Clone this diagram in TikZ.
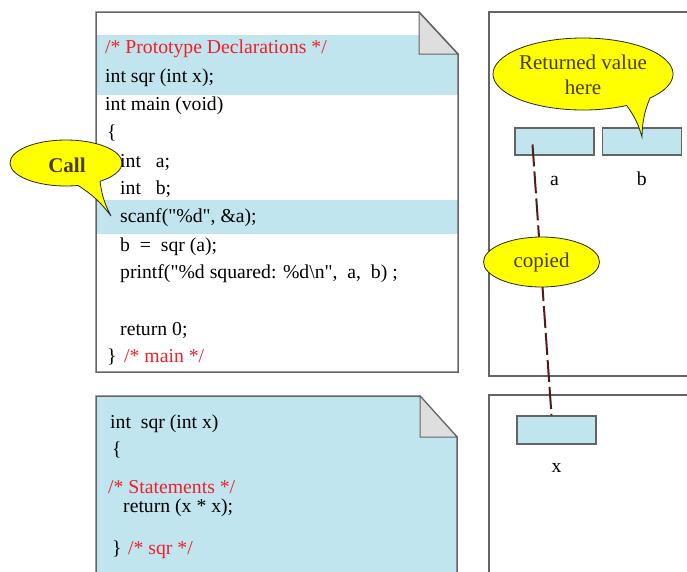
\documentclass[tikz,border=0pt]{standalone}
\usepackage{fontspec}
\setmainfont{Liberation Serif}[Ligatures=TeXOff]
\usetikzlibrary{shapes.geometric, positioning, calc}
\definecolor{codeblue}{RGB}{192,229,238}
\definecolor{foldgray}{RGB}{222,222,222}
\definecolor{edgegray}{RGB}{100,100,100}
\definecolor{commentred}{RGB}{240,30,40}
\definecolor{noteyellow}{RGB}{255,255,0}
\definecolor{noteink}{RGB}{70,60,0}
\definecolor{linkbrown}{RGB}{85,25,25}
\newcommand{\codefont}{\fontsize{19.7}{24}\selectfont}
\newcommand{\notefont}{\fontsize{21}{25}\selectfont}

\begin{document}
\begin{tikzpicture}[
    x=1pt, y=-1pt,
    code/.style={anchor=west, inner sep=0pt, font=\codefont,
                 text height=14pt, text depth=4pt},
    comment/.style={code, text=commentred},
    varbox/.style={rectangle, draw=edgegray, line width=1.2pt, fill=codeblue,
                   minimum width=79pt, minimum height=27pt, inner sep=0pt},
    varlabel/.style={inner sep=0pt, font=\codefont, text height=14pt, text depth=4pt},
    bubble/.style={draw=black!85, fill=noteyellow, line width=0.8pt},
    notetext/.style={font=\notefont, text=noteink, align=center},
    pageedge/.style={draw=edgegray, line width=1.5pt},
    foldcorner/.style={draw=edgegray, line width=1pt, fill=foldgray},
    copyline/.style={draw=linkbrown, line width=2pt, dash pattern=on 22pt off 5pt}
]
%% Frame
\useasboundingbox (0,0) rectangle (687,571);
\clip (0,0) rectangle (687,571);
%% main() page
\coordinate (mainnw) at (96,12);
\coordinate (mainse) at (458,372);
\coordinate (mainfold) at (419,54);
\fill[white] (mainnw) -- (mainfold |- mainnw) -- (mainse |- mainfold) -- (mainse)
    -- (mainnw |- mainse) -- cycle;
\begin{scope}
  \clip (mainnw) -- (mainfold |- mainnw) -- (mainse |- mainfold) -- (mainse)
      -- (mainnw |- mainse) -- cycle;
  \fill[codeblue] (96,35) rectangle (458,95);
  \fill[codeblue] (96,200) rectangle (458,234);
\end{scope}
\draw[foldcorner] (mainfold |- mainnw) -- (mainfold) -- (mainse |- mainfold) -- cycle;
\draw[pageedge] (mainnw) -- (mainfold |- mainnw) -- (mainse |- mainfold) -- (mainse)
    -- (mainnw |- mainse) -- cycle;
\node[comment] (protocmt)  at (105,48)  {/* Prototype Declarations */};
\node[code]    (protoline) at (105,77)  {int sqr (int x);};
\node[code]    (mainhead)  at (105,105) {int main (void)};
\node[code]    (mainopen)  at (107,133) {\{};
\node[code]    (decla)     at (120,162) {int\ \ \ a;};
\node[code]    (declb)     at (120,189) {int\ \ \ b;};
\node[code]    (scanline)  at (120,217) {scanf("\%d", \&a);};
\node[code]    (callline)  at (120,246) {b\ \ =\ \ sqr (a);};
\node[code]    (printline) at (120,273) {printf("\%d squared: \%d\textbackslash n",\ \ a,\ \ b) ;};
\node[code]    (retline)   at (120,330) {return 0;};
\node[code]    (mainclose) at (107,357) {\}};
\node[comment] (maincmt)   at (124,357) {/* main */};
%% sqr() page
\coordinate (sqrnw) at (96,396);
\coordinate (sqrse) at (457,600);
\coordinate (sqrfold) at (420,437);
\draw[pageedge, fill=codeblue] (sqrnw) -- (sqrfold |- sqrnw) -- (sqrse |- sqrfold) -- (sqrse)
    -- (sqrnw |- sqrse) -- cycle;
\draw[foldcorner] (sqrfold |- sqrnw) -- (sqrfold) -- (sqrse |- sqrfold) -- cycle;
\node[code]    (sqrhead)  at (110,423) {int\ \ sqr (int x)};
\node[code]    (sqropen)  at (112,450) {\{};
\node[comment] (stmtcmt)  at (108,488) {/* Statements */};
\node[code]    (sqrret)   at (123,507) {return (x * x);};
\node[code]    (sqrclose) at (112,549) {\}};
\node[comment] (sqrcmt)   at (128,549) {/* sqr */};
%% Memory panels
\draw[pageedge] (489,12) rectangle (700,376);
\draw[pageedge] (489,395) rectangle (700,600);
\node[varbox] (boxa) at (554.5,141.5) {};
\node[varbox, right=7pt of boxa] (boxb) {};
\node[varlabel, below=16pt of boxa] (labela) {a};
\node[varlabel, below=16pt of boxb] (labelb) {b};
\node[varbox, minimum height=28pt] (boxx) at (556.5,430) {};
\node[varlabel, below=14pt of boxx] (labelx) {x};
%% Copy of the argument
\coordinate (afrom) at ([shift={(-22,3)}]boxa.center);
\draw[copyline] (afrom) -- ([xshift=-5pt]boxx.north);
\node[ellipse, bubble, notetext, minimum width=116pt, minimum height=50pt,
      inner sep=0pt] (copiednote) at (541.5,262) {copied};
%% Callouts
\coordinate (retc) at (583,74);
\coordinate (rettip) at (642,137);
\draw[bubble] ($(retc)+(61:90 and 36)$)
    arc[start angle=61, end angle=402, x radius=90, y radius=36]
    to[bend right=10] (rettip) to[bend right=10] cycle;
\node[notetext] (retnote) at (583,75) {Returned value\\here};
\coordinate (callc) at (66,163);
\coordinate (calltip) at (111,216);
\draw[bubble] ($(callc)+(77.6:56 and 23)$)
    arc[start angle=77.6, end angle=412.6, x radius=56, y radius=23]
    to[bend right=10] (calltip) to[bend right=10] cycle;
\node[notetext, font=\notefont\bfseries] (callnote) at (67,165) {Call};
\end{tikzpicture}
\end{document}
